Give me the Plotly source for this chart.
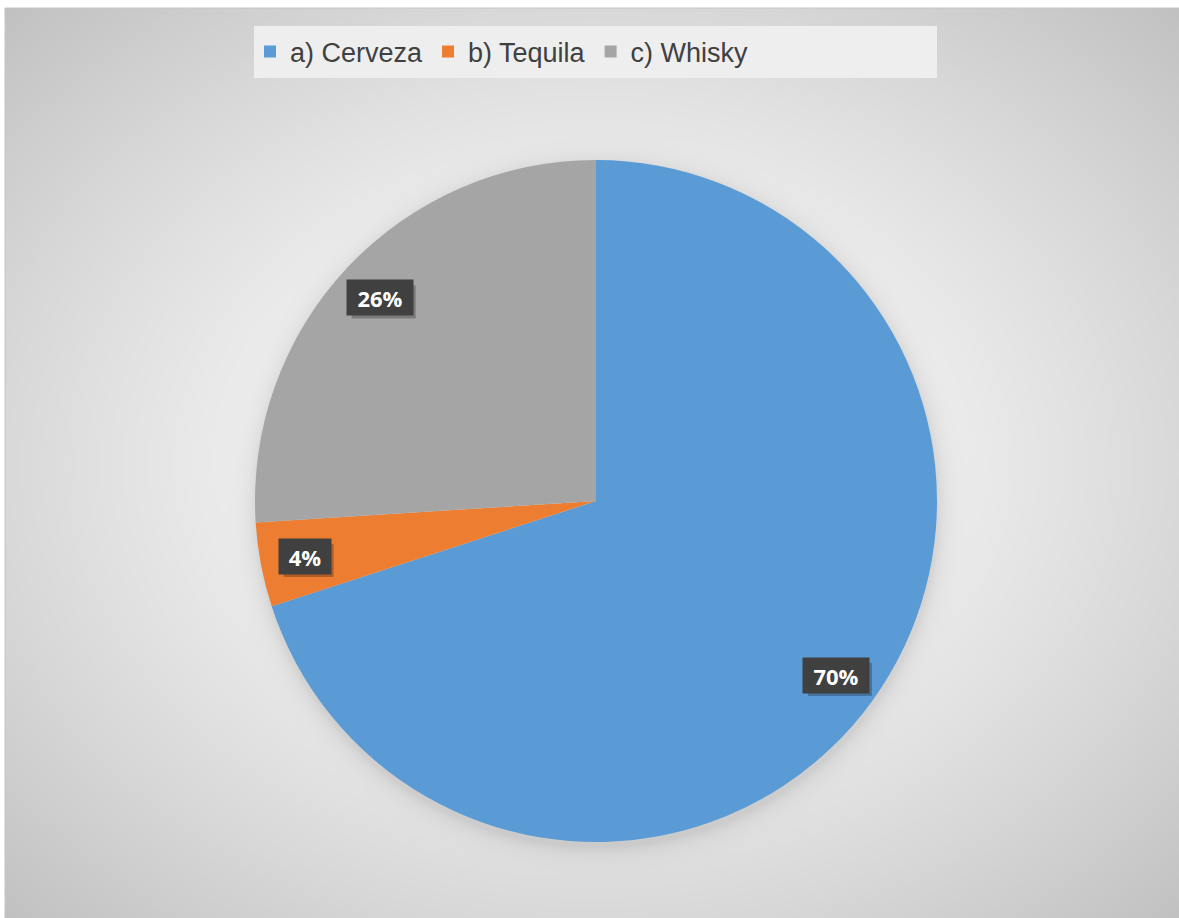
import base64
import struct
import zlib

import numpy as np
import plotly.graph_objects as go

labels = ["a) Cerveza", "b) Tequila", "c) Whisky"]
values = [70, 4, 26]
colors = ["#5B9BD5", "#ED7D31", "#A5A5A5"]

W, H = 1179, 918
# pie placement (pixels)
cx, cy, r = 596, 501, 341


def png_uri(arr):
    h, w, _ = arr.shape
    raw = b"".join(b"\x00" + arr[i].tobytes() for i in range(h))

    def chunk(tag, data):
        c = struct.pack(">I", len(data)) + tag + data
        return c + struct.pack(">I", zlib.crc32(tag + data) & 0xFFFFFFFF)

    png = b"\x89PNG\r\n\x1a\n"
    png += chunk(b"IHDR", struct.pack(">IIBBBBB", w, h, 8, 2, 0, 0, 0))
    png += chunk(b"IDAT", zlib.compress(raw, 9))
    png += chunk(b"IEND", b"")
    return "data:image/png;base64," + base64.b64encode(png).decode()


# radial grey background of the chart area, with a soft shadow under the pie
x0a, y0a = 5, 8
aw, ah = W - x0a, H - y0a
sc = 2
yy, xx = np.mgrid[0:ah // sc, 0:aw // sc].astype(float) * sc
px = xx + x0a
py = yy + y0a
gx = (px - (x0a + aw / 2)) / (aw / 2)
gy = (py - (y0a + ah / 2)) / (ah / 2)
t = np.clip(np.sqrt(gx ** 2 + gy ** 2) / np.sqrt(2), 0, 1)
bg = 255 - 62 * t ** 1.4
d = np.sqrt((px - cx) ** 2 + (py - cy - 4) ** 2) - r
bg -= 22 * np.exp(-np.clip(d, 0, None) / 9)
img = np.repeat(np.clip(bg, 0, 255).astype(np.uint8)[:, :, None], 3, axis=2)
bg_uri = png_uri(img)

fig = go.Figure()

fig.add_trace(go.Pie(
    labels=labels,
    values=values,
    marker=dict(colors=colors, line=dict(width=0)),
    sort=False,
    direction="clockwise",
    rotation=0,
    textinfo="none",
    hoverinfo="label+percent",
    domain=dict(x=[(cx - r) / W, (cx + r) / W], y=[1 - (cy + r) / H, 1 - (cy - r) / H]),
))

shapes = [
    dict(type="rect", xref="paper", yref="paper", x0=254 / W, x1=937 / W,
         y0=1 - 78 / H, y1=1 - 26 / H, fillcolor="#EEEEEE", line=dict(width=0), layer="below"),
    dict(type="line", xref="paper", yref="paper", x0=x0a / W, x1=1, y0=1 - y0a / H, y1=1 - y0a / H,
         line=dict(color="#C6C6C6", width=1)),
    dict(type="line", xref="paper", yref="paper", x0=x0a / W, x1=x0a / W, y0=0, y1=1 - y0a / H,
         line=dict(color="#C6C6C6", width=1)),
]

# data labels: dark boxes along each slice's mid angle
total = sum(values)
annotations = []
cum = 0
bh = 33
for v in values:
    ang = np.radians((cum + v / 2) / total * 360)
    cum += v
    lx = cx + 0.87 * r * np.sin(ang)
    ly = cy - 0.87 * r * np.cos(ang)
    txt = "%d%%" % round(100 * v / total)
    bw = 64 if len(txt) > 2 else 50
    # drop shadow behind the label box
    shapes.append(dict(
        type="rect", xref="paper", yref="paper",
        x0=(lx - bw / 2 + 4) / W, x1=(lx + bw / 2 + 4) / W,
        y0=1 - (ly + bh / 2 + 4) / H, y1=1 - (ly - bh / 2 + 4) / H,
        fillcolor="rgba(0,0,0,0.25)", line=dict(width=0), layer="above",
    ))
    annotations.append(dict(
        x=lx / W, y=1 - ly / H, xref="paper", yref="paper", showarrow=False,
        xanchor="center", yanchor="middle", width=bw, height=bh,
        text="<b>%s</b>" % txt, bgcolor="#404040",
        font=dict(color="white", size=22, family="Open Sans"),
    ))

fig.update_layout(
    width=W,
    height=H,
    margin=dict(l=0, r=0, t=0, b=0),
    paper_bgcolor="white",
    plot_bgcolor="rgba(0,0,0,0)",
    images=[dict(
        source=bg_uri, xref="paper", yref="paper",
        x=x0a / W, y=1 - y0a / H, sizex=aw / W, sizey=ah / H,
        xanchor="left", yanchor="top", sizing="stretch", layer="below",
    )],
    shapes=shapes,
    legend=dict(
        orientation="h",
        x=502 / W, xanchor="center",
        y=1 - 52 / H, yanchor="middle",
        bgcolor="rgba(0,0,0,0)",
        font=dict(family="Liberation Sans", size=27, color="#404040"),
        traceorder="normal",
    ),
    annotations=annotations,
)

fig.write_html("out.html", config={"displayModeBar": False},
               post_script="document.body.style.margin='0';")
